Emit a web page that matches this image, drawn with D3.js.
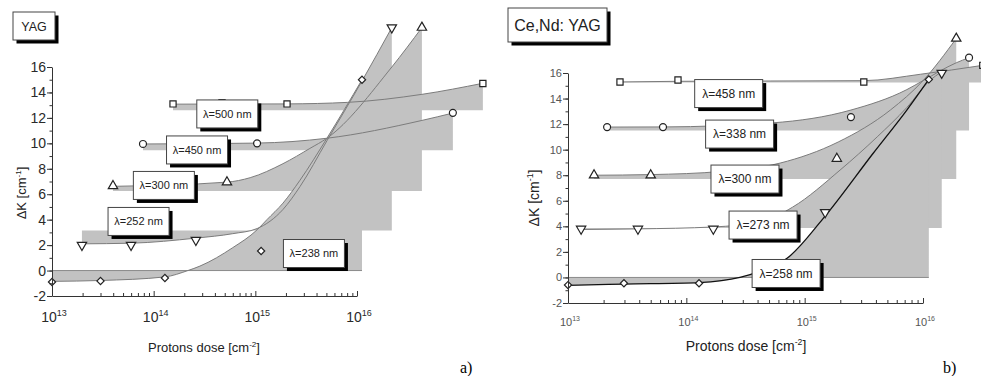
<!DOCTYPE html>
<html>
<head>
<meta charset="utf-8">
<script src="https://cdn.jsdelivr.net/npm/d3@7/dist/d3.min.js"></script>
<style>
  html, body { margin: 0; padding: 0; background: #fff; }
  svg { display: block; font-family: "Liberation Sans", Arial, sans-serif; }
</style>
</head>
<body>
<svg id="chart" width="981" height="376"></svg>
<script>
// ---------- axis ticks ----------
const yTickValues = [-2, 0, 2, 4, 6, 8, 10, 12, 14, 16];
const decadeExponents = [13, 14, 15, 16];

// ---------- panel a: YAG (dose cm^-2, ΔK cm^-1) ----------
const aLabels = ["λ=500 nm", "λ=450 nm", "λ=300 nm", "λ=252 nm", "λ=238 nm"];
const aPoints500 = [[1.55e14, 13.1], [4.7e14, 13.2], [2.05e15, 13.1], [1.73e17, 14.7]];
const aPoints450 = [[7.85e13, 9.95], [1.04e15, 10.0], [8.77e16, 12.4]];
const aPoints300 = [[3.98e13, 6.65], [5.26e14, 6.95], [4.35e16, 19.1]];
const aPoints252 = [[1.97e13, 2.0], [5.99e13, 2.0], [2.6e14, 2.4], [2.2e16, 19.1]];
const aPoints238 = [[1.0e13, -0.9], [3.0e13, -0.82], [1.29e14, -0.58], [1.14e15, 1.54], [1.12e16, 15.0]];

const aFit500 = [[1.55e14, 13.08], [2.05e15, 13.1], [8.1e15, 13.22], [4.35e16, 13.85], [1.73e17, 14.72]];
const aFit450 = [[7.85e13, 9.95], [1.04e15, 10.02], [5.06e15, 10.4], [4.35e16, 11.8], [8.77e16, 12.38]];
const aFit300 = [[3.98e13, 6.62], [5.26e14, 6.95], [8.9e14, 7.3], [1.87e15, 8.4], [3.44e15, 9.6], [5.06e15, 10.4], [2.2e16, 16.0], [4.35e16, 19.1]];
const aFit252 = [[1.97e13, 2.1], [5.99e13, 2.15], [2.6e14, 2.55], [6.0e14, 2.9], [1.04e15, 3.3], [1.87e15, 4.8], [2.75e15, 6.6], [5.06e15, 10.2], [1.12e16, 14.9], [2.2e16, 19.1]];
const aFit238 = [[1.0e13, -0.85], [3.0e13, -0.78], [1.29e14, -0.5], [2.17e14, 0], [2.85e14, 0.35], [6.0e14, 1.8], [1.04e15, 3.2], [1.3e15, 4.0], [1.87e15, 5.3], [2.75e15, 7.1], [5.06e15, 10.4], [1.12e16, 15.0]];

const aBaselines = [12.6, 9.45, 6.25, 3.15, 0];
const aLabelAnchors = [[5.3e14, 12.31], [2.67e14, 9.48], [1.26e14, 6.69], [7.1e13, 3.86], [3.77e15, 1.34]];

// ---------- panel b: Ce,Nd:YAG ----------
const bLabels = ["λ=458 nm", "λ=338 nm", "λ=300 nm", "λ=273 nm", "λ=258 nm"];
const bPoints458 = [[2.75e13, 15.3], [8.5e13, 15.45], [3.16e15, 15.3], [3.2e16, 16.6]];
const bPoints338 = [[2.14e13, 11.77], [6.35e13, 11.77], [2.46e15, 12.55], [2.45e16, 17.2]];
const bPoints300 = [[1.66e13, 8.0], [5.0e13, 8.0], [1.87e15, 9.3], [1.91e16, 18.7]];
const bPoints273 = [[1.29e13, 3.8], [3.9e13, 3.8], [1.69e14, 3.8], [1.49e15, 5.1], [1.44e16, 16.0]];
const bPoints258 = [[1.0e13, -0.6], [2.97e13, -0.46], [1.28e14, -0.46], [1.12e16, 15.5]];

const bFit458 = [[2.75e13, 15.3], [8.5e13, 15.35], [3.16e15, 15.4], [9.5e15, 15.9], [3.2e16, 16.6]];
const bFit338 = [[2.14e13, 11.77], [6.35e13, 11.78], [5.4e14, 12.1], [2.46e15, 13.1], [7.3e15, 14.7], [1.0e16, 15.4], [1.91e16, 16.8], [2.45e16, 17.2]];
const bFit300 = [[1.66e13, 8.0], [5.0e13, 8.05], [2.0e14, 8.3], [6.2e14, 8.95], [1.92e15, 10.6], [5.3e15, 13.1], [1.0e16, 15.4], [1.91e16, 18.7]];
const bFit273 = [[1.29e13, 3.75], [3.9e13, 3.8], [1.69e14, 3.95], [4.45e14, 4.4], [7.9e14, 5.5], [1.99e15, 8.4], [4.1e15, 11.0], [7.3e15, 13.3], [1.14e16, 15.4], [1.44e16, 16.1]];
const bFit258 = [[1.0e13, -0.62], [2.97e13, -0.52], [1.28e14, -0.4], [2.84e14, 0], [4.45e14, 0.6], [7.1e14, 1.5], [1.43e15, 4.6], [3.78e15, 9.7], [7.3e15, 13.1], [1.12e16, 15.5]];

const bBaselines = [15.25, 11.5, 7.7, 3.87, 0];
const bLabelAnchors = [[2.28e14, 14.39], [2.82e14, 11.22], [3.13e14, 7.7], [4.45e14, 4.1], [6.97e14, 0.31]];

const symbolKinds = ["square", "circle", "triangle-up", "triangle-down", "diamond"];

// ---------- assemble panels ----------
function buildSeries(labels, pointSets, fitSets, baselines, anchors) {
  return labels.map((lab, i) => ({
    label: lab, points: pointSets[i], fit: fitSets[i], base: baselines[i],
    anchor: anchors[i], symbol: symbolKinds[i]
  }));
}

const panels = [
  {
    title: "YAG", titleBox: { x: 13, y: 12, w: 42, h: 28, size: 12.5 },
    letter: "a)", letterPos: [460, 373],
    xr: [52, 357], yr: [296, 67],
    tickFont: 14, supFont: 9, tickColor: "#2a2a2a", labelFont: 11, boxW: 61,
    yTitle: { x: 26, y: 193, size: 13 }, xTitle: { x: 204, y: 352, size: 13 },
    darkLast: false,
    series: buildSeries(aLabels, [aPoints500, aPoints450, aPoints300, aPoints252, aPoints238],
      [aFit500, aFit450, aFit300, aFit252, aFit238], aBaselines, aLabelAnchors)
  },
  {
    title: "Ce,Nd: YAG", titleBox: { x: 508, y: 8, w: 99, h: 34, size: 16 },
    letter: "b)", letterPos: [943, 373],
    xr: [568, 923], yr: [303, 73],
    tickFont: 11, supFont: 7, tickColor: "#555", labelFont: 12, boxW: 68,
    yTitle: { x: 539, y: 198, size: 14 }, xTitle: { x: 746, y: 351, size: 14 },
    darkLast: true,
    series: buildSeries(bLabels, [bPoints458, bPoints338, bPoints300, bPoints273, bPoints258],
      [bFit458, bFit338, bFit300, bFit273, bFit258], bBaselines, bLabelAnchors)
  }
];

const svg = d3.select("#chart");
const FILL = "#c2c2c2";

function markerPath(kind) {
  switch (kind) {
    case "square": return d3.symbol(d3.symbolSquare, 38)();
    case "circle": return d3.symbol(d3.symbolCircle, 38)();
    case "triangle-up":
    case "triangle-down": return d3.symbol(d3.symbolTriangle, 38)();
    default: return d3.symbol(d3.symbolSquare, 26)(); // rotated into a diamond
  }
}
function markerRotation(kind) {
  if (kind === "triangle-down") return " rotate(180)";
  if (kind === "diamond") return " rotate(45)";
  return "";
}

function shadowBox(g, x0, y0, w, h, off) {
  g.append("rect").attr("x", x0 + off).attr("y", y0 + off).attr("width", w).attr("height", h).attr("fill", "#000");
  g.append("rect").attr("x", x0).attr("y", y0).attr("width", w).attr("height", h)
    .attr("fill", "#fff").attr("stroke", "#444").attr("stroke-width", 1);
}

function drawPanel(p) {
  const g = svg.append("g");
  const x = d3.scaleLog().domain([1e13, 1e16]).range(p.xr);
  const y = d3.scaleLinear().domain([-2, 16]).range(p.yr);

  // shaded areas between each fitted curve and its reference level
  p.series.forEach(s => {
    const area = d3.area()
      .x(d => x(d[0])).y0(y(s.base)).y1(d => y(d[1]))
      .curve(d3.curveMonotoneX);
    g.append("path").attr("d", area(s.fit)).attr("fill", FILL);
  });
  // zero reference line under the lowest series
  const zs = p.series[p.series.length - 1];
  g.append("line")
    .attr("x1", x(zs.fit[0][0])).attr("x2", x(zs.fit[zs.fit.length - 1][0]))
    .attr("y1", y(0)).attr("y2", y(0))
    .attr("stroke", "#8a8a8a").attr("stroke-width", 1);

  // fitted curves
  const line = d3.line().x(d => x(d[0])).y(d => y(d[1])).curve(d3.curveMonotoneX);
  p.series.forEach((s, i) => {
    const dark = p.darkLast && i === p.series.length - 1;
    g.append("path").attr("d", line(s.fit)).attr("fill", "none")
      .attr("stroke", dark ? "#111" : "#7c7c7c").attr("stroke-width", dark ? 1.3 : 1);
  });

  // data markers
  p.series.forEach(s => {
    g.selectAll(null).data(s.points).join("path")
      .attr("d", markerPath(s.symbol))
      .attr("transform", d => `translate(${x(d[0])},${y(d[1])})` + markerRotation(s.symbol))
      .attr("fill", "#fff").attr("stroke", "#222").attr("stroke-width", 1.2);
  });

  // wavelength labels
  p.series.forEach(s => {
    const cx = x(s.anchor[0]), cy = y(s.anchor[1]);
    const w = p.boxW, h = 28;
    const lg = g.append("g");
    shadowBox(lg, cx - w / 2, cy - h / 2, w, h, 3.5);
    lg.append("text").attr("x", cx).attr("y", cy + p.labelFont * 0.36)
      .attr("text-anchor", "middle").attr("font-size", p.labelFont).attr("fill", "#222")
      .text(s.label);
  });

  // y axis
  const yAxis = g.append("g").attr("transform", `translate(${p.xr[0]},0)`);
  yAxis.call(d3.axisLeft(y).tickValues(yTickValues).tickSize(5).tickSizeOuter(0).tickFormat(""));
  yAxis.append("g").call(d3.axisLeft(y).tickValues(d3.range(-2, 17, 1)).tickSize(2.5).tickSizeOuter(0).tickFormat(""))
    .select(".domain").remove();
  yAxis.selectAll("path,line").attr("stroke", "#333");
  g.selectAll(null).data(yTickValues).join("text")
    .attr("x", p.xr[0] - 6).attr("y", d => y(d) + p.tickFont * 0.36)
    .attr("text-anchor", "end").attr("font-size", p.tickFont).attr("fill", p.tickColor)
    .text(d => d);

  // x axis (log decades with minor ticks, pointing into the plot)
  const x0 = p.yr[0];
  const minor = [];
  decadeExponents.slice(0, -1).forEach(e => { for (let k = 2; k <= 9; k++) minor.push(k * Math.pow(10, e)); });
  const xAxis = g.append("g").attr("transform", `translate(0,${x0})`);
  xAxis.call(d3.axisBottom(x).tickValues(decadeExponents.map(e => Math.pow(10, e))).tickSize(-5).tickSizeOuter(0).tickFormat(""));
  xAxis.append("g").call(d3.axisBottom(x).tickValues(minor).tickSize(-3).tickSizeOuter(0).tickFormat(""))
    .select(".domain").remove();
  xAxis.selectAll("path,line").attr("stroke", "#333");
  decadeExponents.forEach(e => {
    const t = g.append("text").attr("x", x(Math.pow(10, e)) + 2).attr("y", x0 + p.tickFont + 12)
      .attr("text-anchor", "middle").attr("font-size", p.tickFont).attr("fill", p.tickColor);
    t.append("tspan").text("10");
    t.append("tspan").attr("font-size", p.supFont).attr("dy", -p.tickFont * 0.45).text(e);
  });

  // axis titles
  const yt = g.append("text")
    .attr("transform", `translate(${p.yTitle.x},${p.yTitle.y}) rotate(-90)`)
    .attr("text-anchor", "middle").attr("font-size", p.yTitle.size).attr("fill", "#222");
  yt.append("tspan").text("ΔK [cm");
  yt.append("tspan").attr("font-size", p.yTitle.size * 0.62).attr("dy", -p.yTitle.size * 0.42).text("-1");
  yt.append("tspan").attr("dy", p.yTitle.size * 0.42).text("]");

  const xt = g.append("text").attr("x", p.xTitle.x).attr("y", p.xTitle.y)
    .attr("text-anchor", "middle").attr("font-size", p.xTitle.size).attr("fill", "#222");
  xt.append("tspan").text("Protons dose [cm");
  xt.append("tspan").attr("font-size", p.xTitle.size * 0.62).attr("dy", -p.xTitle.size * 0.42).text("-2");
  xt.append("tspan").attr("dy", p.xTitle.size * 0.42).text("]");

  // panel title box
  const tb = p.titleBox;
  shadowBox(g, tb.x, tb.y, tb.w, tb.h, 3.5);
  g.append("text").attr("x", tb.x + tb.w / 2).attr("y", tb.y + tb.h / 2 + tb.size * 0.36)
    .attr("text-anchor", "middle").attr("font-size", tb.size).attr("fill", "#222").text(p.title);

  // panel letter
  g.append("text").attr("x", p.letterPos[0]).attr("y", p.letterPos[1])
    .attr("font-family", "'Liberation Serif', 'Times New Roman', serif").attr("font-size", 16).attr("fill", "#000")
    .text(p.letter);
}

panels.forEach(drawPanel);
</script>
</body>
</html>
